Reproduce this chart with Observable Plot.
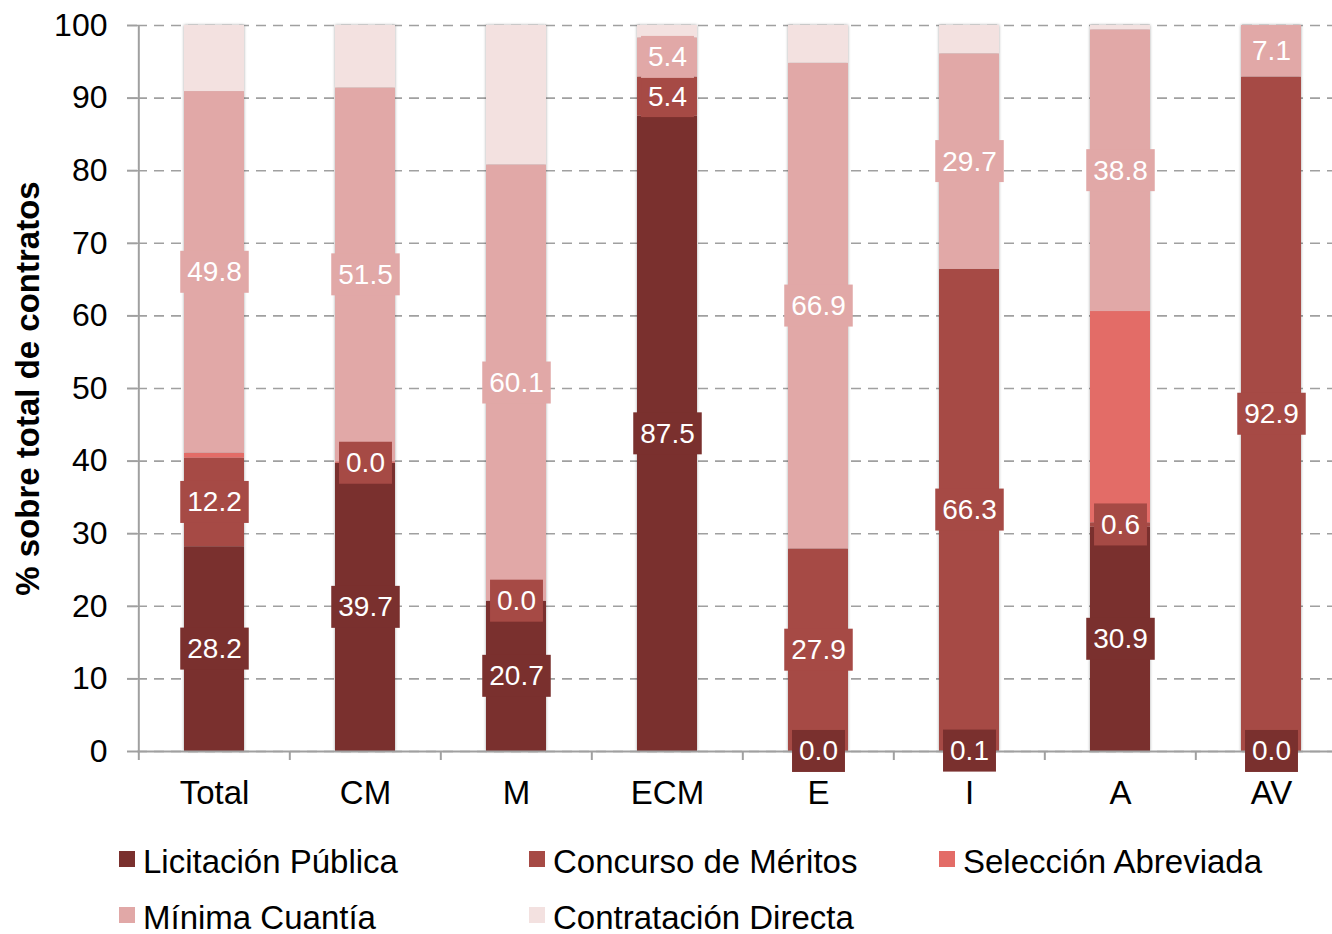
<!DOCTYPE html>
<html>
<head>
<meta charset="utf-8">
<script src="https://cdn.jsdelivr.net/npm/d3@7"></script>
<script src="https://cdn.jsdelivr.net/npm/@observablehq/plot@0.6"></script>
<style>
  html, body { margin: 0; padding: 0; background: #fff; overflow: hidden; }
  body { font-family: "Liberation Sans", Arial, sans-serif; width: 1332px; }
  #legend { display: grid; grid-template-columns: repeat(3, 410px); grid-auto-rows: 56px; padding-left: 119px; margin-top: 23px; }
  .item { display: flex; align-items: center; font-size: 33px; color: #000; white-space: nowrap; }
  .sw { width: 16px; height: 16px; margin-right: 8px; position: relative; top: -3px; flex: none; }
</style>
</head>
<body>
<div id="chart"></div>
<div id="legend"></div>
<script>
// ---- data ----
const categories = ["Total", "CM", "M", "ECM", "E", "I", "A", "AV"];
const seriesNames = ["Licitación Pública", "Concurso de Méritos", "Selección Abreviada", "Mínima Cuantía", "Contratación Directa"];
const licitacionPublica   = [28.2, 39.7, 20.7, 87.5,  0.0,  0.1, 30.9,  0.0];
const concursoMeritos     = [12.2,  0.0,  0.0,  5.4, 27.9, 66.3,  0.6, 92.9];
const seleccionAbreviada  = [ 0.7,  0.2,  0.0,  0.0,  0.0,  0.0, 29.1,  0.0];
const minimaCuantia       = [49.8, 51.5, 60.1,  5.4, 66.9, 29.7, 38.8,  7.1];
const contratacionDirecta = [ 9.1,  8.6, 19.2,  1.7,  5.2,  3.9,  0.6,  0.0];
const yTicks = [0, 10, 20, 30, 40, 50, 60, 70, 80, 90, 100];
const yLabel = "% sobre total de contratos";
const labeledSeries = ["Licitación Pública", "Concurso de Méritos", "Mínima Cuantía"];

// ---- style ----
const seriesColors = ["#7a302e", "#a64a45", "#e36c67", "#e1a8a7", "#f3e1e0"];
const axisGray = "#a0a0a0";

const values = [licitacionPublica, concursoMeritos, seleccionAbreviada, minimaCuantia, contratacionDirecta];
const rows = [];
categories.forEach((c, i) => {
  let acc = 0;
  seriesNames.forEach((s, j) => {
    const v = values[j][i];
    rows.push({category: c, series: s, value: v, y1: acc, y2: acc + v, mid: acc + v / 2});
    acc += v;
  });
});

const W = 1332, marginLeft = 137, marginTop = 25, marginBottom = 60, H = 811;
const step = 151.375;
const xRange = [marginLeft, marginLeft + step * categories.length];

const labelMarks = labeledSeries.map(s =>
  Plot.text(rows.filter(d => d.series === s), {
    x: "category", y: "mid", text: d => d.value.toFixed(1),
    fill: "white", fontSize: 28
  })
);

const svg = Plot.plot({
  width: W, height: H,
  marginLeft, marginRight: 0, marginTop, marginBottom,
  style: {fontFamily: '"Liberation Sans", Arial, sans-serif', color: "black", background: "white"},
  x: {domain: categories, range: xRange, paddingInner: 0.6, paddingOuter: 0.3, align: 0.5},
  y: {domain: [0, d3.max(yTicks)]},
  color: {domain: seriesNames, range: seriesColors},
  marks: [
    Plot.gridY({ticks: yTicks, stroke: axisGray, strokeOpacity: 1, strokeWidth: 1.6, strokeDasharray: "10,7"}),
    Plot.barY(rows, {x: "category", y1: "y1", y2: "y2", fill: "series"}),
    Plot.ruleY([0], {stroke: axisGray, strokeWidth: 2}),
    Plot.ruleX([categories[0]], {x: d => d, y1: 0, y2: d3.max(yTicks), dx: -step / 2, stroke: axisGray, strokeWidth: 2}),
    Plot.axisY({ticks: yTicks, tickSize: 10, tickPadding: 20, fontSize: 32, label: null, stroke: axisGray, strokeWidth: 2, fill: "black"}),
    Plot.axisX({tickSize: 9, tickFormat: () => "", dx: -step / 2, label: null, stroke: axisGray, strokeWidth: 2}),
    Plot.axisX({tickSize: 0, tickPadding: 29, fontSize: 33, label: null, fill: "black"}),
    Plot.text([yLabel], {text: d => d, frameAnchor: "left", textAnchor: "middle", rotate: -90, dx: -109, fontSize: 33, fontWeight: "bold", fill: "black"}),
    ...labelMarks
  ]
});

document.getElementById("chart").append(svg);

const groups = [...svg.children].filter(e => e.tagName.toLowerCase() === "g");

// bar shadow (second mark group)
const barsG = groups[1];
if (barsG) barsG.style.filter = "drop-shadow(0px 0px 1.5px rgba(0,0,0,0.35))";

// label boxes behind value labels (last mark groups)
const labelGroups = groups.slice(-labeledSeries.length);
labelGroups.forEach((g, k) => {
  const j = seriesNames.indexOf(labeledSeries[k]);
  g.querySelectorAll("text").forEach(t => {
    const b = t.getBBox();
    const r = document.createElementNS("http://www.w3.org/2000/svg", "rect");
    r.setAttribute("x", b.x - 7);
    r.setAttribute("width", b.width + 14);
    r.setAttribute("y", b.y + b.height / 2 - 21);
    r.setAttribute("height", 42);
    r.setAttribute("fill", seriesColors[j]);
    r.setAttribute("stroke", "none");
    if (t.getAttribute("transform")) r.setAttribute("transform", t.getAttribute("transform"));
    t.parentNode.insertBefore(r, t);
  });
});

// legend
const legend = document.getElementById("legend");
seriesNames.forEach((s, j) => {
  const item = document.createElement("div");
  item.className = "item";
  const sw = document.createElement("span");
  sw.className = "sw";
  sw.style.background = seriesColors[j];
  const lab = document.createElement("span");
  lab.textContent = s;
  item.append(sw, lab);
  legend.append(item);
});
</script>
</body>
</html>
